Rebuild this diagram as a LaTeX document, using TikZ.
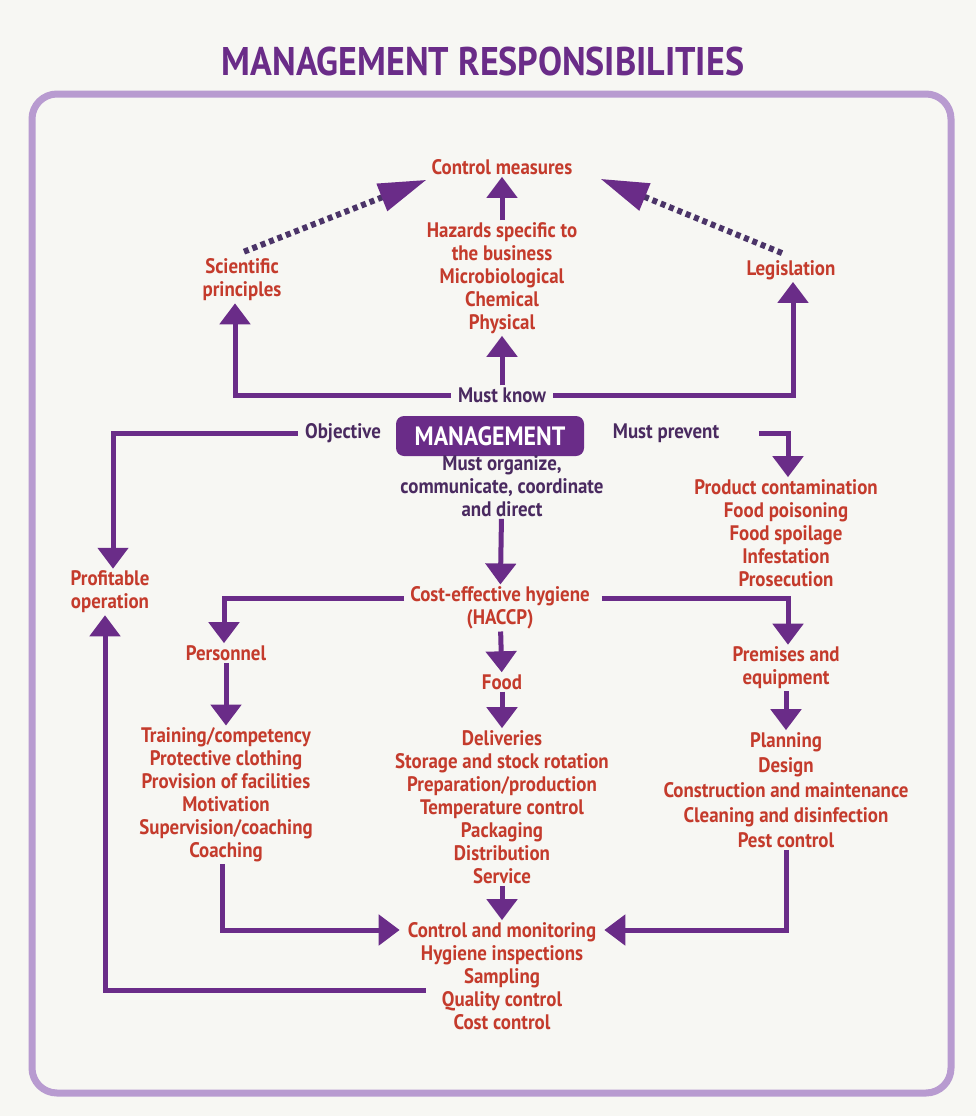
\documentclass[tikz,border=0pt]{standalone}
\usepackage{fontspec}
\setmainfont{PT Sans}[FakeStretch=0.9]
\usetikzlibrary{arrows.meta}
\usetikzlibrary{positioning}

\definecolor{hygred}{HTML}{C43B2C}
\definecolor{mgmtpurple}{HTML}{6A2C88}
\definecolor{darkplum}{HTML}{4A2A60}
\definecolor{dotplum}{HTML}{4B3468}
\definecolor{framelilac}{HTML}{B89BD0}
\definecolor{paper}{HTML}{F7F7F3}

\tikzset{
    item/.style={text=hygred, font=\bfseries\fontsize{21}{23}\selectfont, align=center, inner sep=2pt},
    verb/.style={item, text=darkplum, inner xsep=7pt},
    arr/.style={draw=mgmtpurple, line width=5pt, -{Triangle[width=30pt,length=21pt]}},
    dots/.style={draw=dotplum, line width=6pt, dash pattern=on 5pt off 4pt, -{Triangle[width=28pt,length=48pt,color=mgmtpurple]}},
    mgmtbox/.style={fill=mgmtpurple, text=white, rounded corners=8pt, minimum width=188pt, minimum height=40pt, font=\bfseries\fontsize{26.5}{28}\selectfont}
}

\begin{document}
\begin{tikzpicture}[x=1pt, y=-1pt]
        \fill[paper] (0,0) rectangle (976,1116);
        \draw[framelilac, line width=7pt, rounded corners=25pt] (32,94) rectangle (951,1093);

        \node[text=mgmtpurple, font=\bfseries\fontsize{40}{42}\selectfont] (title) at (483,62) {MANAGEMENT RESPONSIBILITIES};

        \node[item] (ctrl) at (502,167) {Control measures};
        \node[item] (hazards) at (502,278) {Hazards specific to\\the business\\Microbiological\\Chemical\\Physical};
        \node[item] (sci) at (242,280) {Scientific\\principles};
        \node[item] (legis) at (791,270) {Legislation};
        \node[verb] (know) at (502,395) {Must know};
        \node[mgmtbox] (mgmt) at (490,436) {MANAGEMENT};
        \node[verb] (obj) at (343,433) {Objective};
        \node[verb] (prevent) at (666,433) {Must prevent};
        \node[verb] (organize) at (502,486) {Must organize,\\communicate, coordinate\\and direct};
        \node[item] (hygiene) at (500,608) {Cost-effective hygiene\\(HACCP)};
        \node[item] (profit) at (110,592) {Profitable\\operation};
        \node[item] (contam) at (786,533) {Product contamination\\Food poisoning\\Food spoilage\\Infestation\\Prosecution};
        \node[item] (personnel) at (226,653) {Personnel};
        \node[item] (food) at (502,682) {Food};
        \node[item] (premises) at (786,668) {Premises and\\equipment};
        \node[item] (perslist) at (226,795) {Training/competency\\Protective clothing\\Provision of facilities\\Motivation\\Supervision/coaching\\Coaching};
        \node[item] (foodlist) at (502,807) {Deliveries\\Storage and stock rotation\\Preparation/production\\Temperature control\\Packaging\\Distribution\\Service};
        \node[item, font=\bfseries\fontsize{21}{25}\selectfont] (premlist) at (786,790) {Planning\\Design\\Construction and maintenance\\Cleaning and disinfection\\Pest control};
        \node[item] (monitor) at (502,976) {Control and monitoring\\Hygiene inspections\\Sampling\\Quality control\\Cost control};

        % what management must know
        \draw[arr] (know) -- (hazards);
        \draw[arr] (hazards) -- (ctrl);
        \draw[arr] (know.west) -| ([xshift=-7pt]sci.south);
        \draw[arr] (know.east) -| ([xshift=2pt]legis.south);
        \draw[dots] ([shift={(2,-5)}]sci.north) -- ([shift={(-3,3)}]ctrl.south west);
        \draw[dots] ([shift={(-9,-5)}]legis.north) -- ([shift={(26,2)}]ctrl.south east);

        % objective and prevention
        \draw[arr] (obj.west) -| ([xshift=3pt]profit.north);
        \draw[arr] ([xshift=33pt]prevent.east) -| ([xshift=2pt]contam.north);
        \draw[arr] (organize) -- (hygiene);

        % the three branches
        \draw[arr] ([shift={(-4,-10)}]hygiene.west) -| ([xshift=-2pt]personnel.north);
        \draw[arr] ([shift={(10,-10)}]hygiene.east) -| ([xshift=2pt]premises.north);
        \draw[arr] (hygiene) -- (food);
        \draw[arr] (personnel) -- (perslist);
        \draw[arr] (food) -- (foodlist);
        \draw[arr] (premises) -- (premlist);

        % back to control and monitoring
        \draw[arr] (foodlist) -- (monitor);
        \draw[arr] ([xshift=-4pt]perslist.south) |- ([shift={(-6,-46)}]monitor.west);
        \draw[arr] (premlist.south) |- ([shift={(6,-46)}]monitor.east);
        \draw[arr] ([shift={(20,14)}]monitor.west) -| ([xshift=-5pt]profit.south);
\end{tikzpicture}
\end{document}
